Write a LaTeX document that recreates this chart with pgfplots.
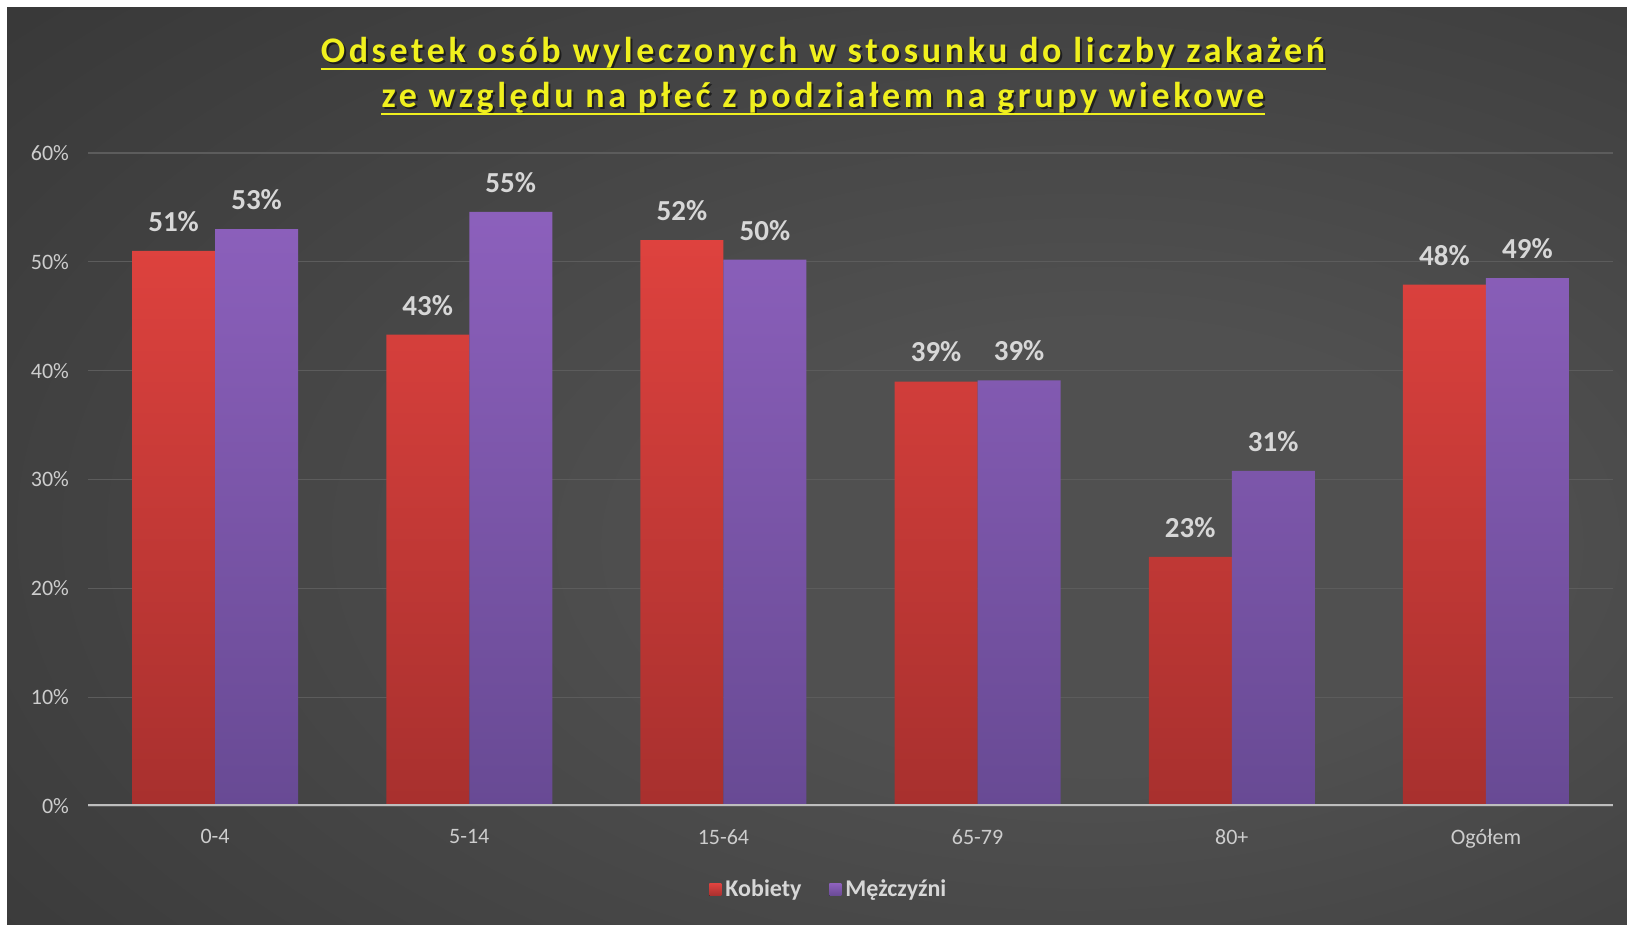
\documentclass[border=0pt]{standalone}
\usepackage{fontspec}
\setmainfont{Carlito}
\newfontfamily\titlefont[LetterSpace=10]{Carlito}
\usepackage{pgfplots}
\pgfplotsset{compat=1.18}
\definecolor{bgin}{RGB}{80,80,80}
\definecolor{bgout}{RGB}{34,34,34}
\definecolor{ttl}{RGB}{240,240,30}
\definecolor{tickgray}{RGB}{205,205,205}
\definecolor{labgray}{RGB}{215,215,215}
\definecolor{gridgray}{RGB}{92,92,92}
\definecolor{axisgray}{RGB}{190,190,190}
\definecolor{redT}{RGB}{222,66,62}
\definecolor{redB}{RGB}{168,48,46}
\definecolor{purT}{RGB}{140,96,188}
\definecolor{purB}{RGB}{104,74,148}
\pgfdeclareradialshading{bg}{\pgfpoint{10bp}{-5bp}}{color(0bp)=(bgin); color(12bp)=(bgin); color(70bp)=(bgout); color(100bp)=(bgout)}

\begin{document}
\begin{tikzpicture}[x=1pt,y=1pt]
\path[use as bounding box] (0,0) rectangle (813.5,462.5);
\fill[white] (0,0) rectangle (813.5,462.5);
\shade[shading=bg] (3.5,0) rectangle (813.5,458.5);

% title, two underlined lines
\node[anchor=base,inner sep=0,text=black,opacity=0.55] at (412.5,430) {\titlefont\bfseries\fontsize{18}{20}\selectfont Odsetek osób wyleczonych w stosunku do liczby zakażeń};
\node[anchor=base,inner sep=0,text=ttl] (t1) at (411.5,431) {\titlefont\bfseries\fontsize{18}{20}\selectfont Odsetek osób wyleczonych w stosunku do liczby zakażeń};
\draw[ttl,line width=1.4pt] ([yshift=-3pt]t1.base west) -- ([yshift=-3pt]t1.base east);
\node[anchor=base,inner sep=0,text=black,opacity=0.55] at (412.5,407.5) {\titlefont\bfseries\fontsize{18}{20}\selectfont ze względu na płeć z podziałem na grupy wiekowe};
\node[anchor=base,inner sep=0,text=ttl] (t2) at (411.5,408.5) {\titlefont\bfseries\fontsize{18}{20}\selectfont ze względu na płeć z podziałem na grupy wiekowe};
\draw[ttl,line width=1.4pt] ([yshift=-3pt]t2.base west) -- ([yshift=-3pt]t2.base east);

\begin{axis}[at={(44pt,59.5pt)},anchor=south west,scale only axis,width=762.5pt,height=326.5pt,
  ybar=0pt,bar width=41.5pt,xmin=-0.5,xmax=5.5,ymin=0,ymax=60,
  xtick={0,...,5},xticklabels={0-4,5-14,15-64,65-79,80+,Ogółem},
  ytick={0,10,...,60},yticklabels={0\%,10\%,20\%,30\%,40\%,50\%,60\%},
  axis line style={draw=none},tick style={draw=none},
  ymajorgrids,major grid style={gridgray,line width=0.6pt},
  ticklabel style={font=\fontsize{11}{13}\selectfont,text=tickgray},
  xticklabel style={yshift=-4pt},yticklabel style={xshift=-6pt},
  nodes near coords,point meta=explicit symbolic,
  every node near coord/.append style={font=\bfseries\fontsize{14.5}{16}\selectfont,text=labgray,anchor=south,inner sep=0pt,yshift=9.5pt},
  legend style={at={(0.4865,-0.1286)},anchor=center,draw=none,fill=none,legend columns=2,
    font=\bfseries\fontsize{12}{14}\selectfont,text=labgray,
    /tikz/every even column/.append style={column sep=12pt}},
  legend image code/.code={\fill[#1] (0pt,-3pt) rectangle (6pt,3pt);},
  ]
\addplot[draw=none,top color=redT,bottom color=redB] coordinates {
  (0,51.0) [51\%] (1,43.3) [43\%] (2,52.0) [52\%] (3,39.0) [39\%] (4,22.9) [23\%] (5,47.9) [48\%]};
\addplot[draw=none,top color=purT,bottom color=purB] coordinates {
  (0,53.0) [53\%] (1,54.6) [55\%] (2,50.2) [50\%] (3,39.1) [39\%] (4,30.8) [31\%] (5,48.5) [49\%]};
\legend{Kobiety,Mężczyźni}
\draw[axisgray,line width=1.5pt] (axis cs:-0.5,0) -- (axis cs:5.5,0);
\end{axis}
\end{tikzpicture}
\end{document}
